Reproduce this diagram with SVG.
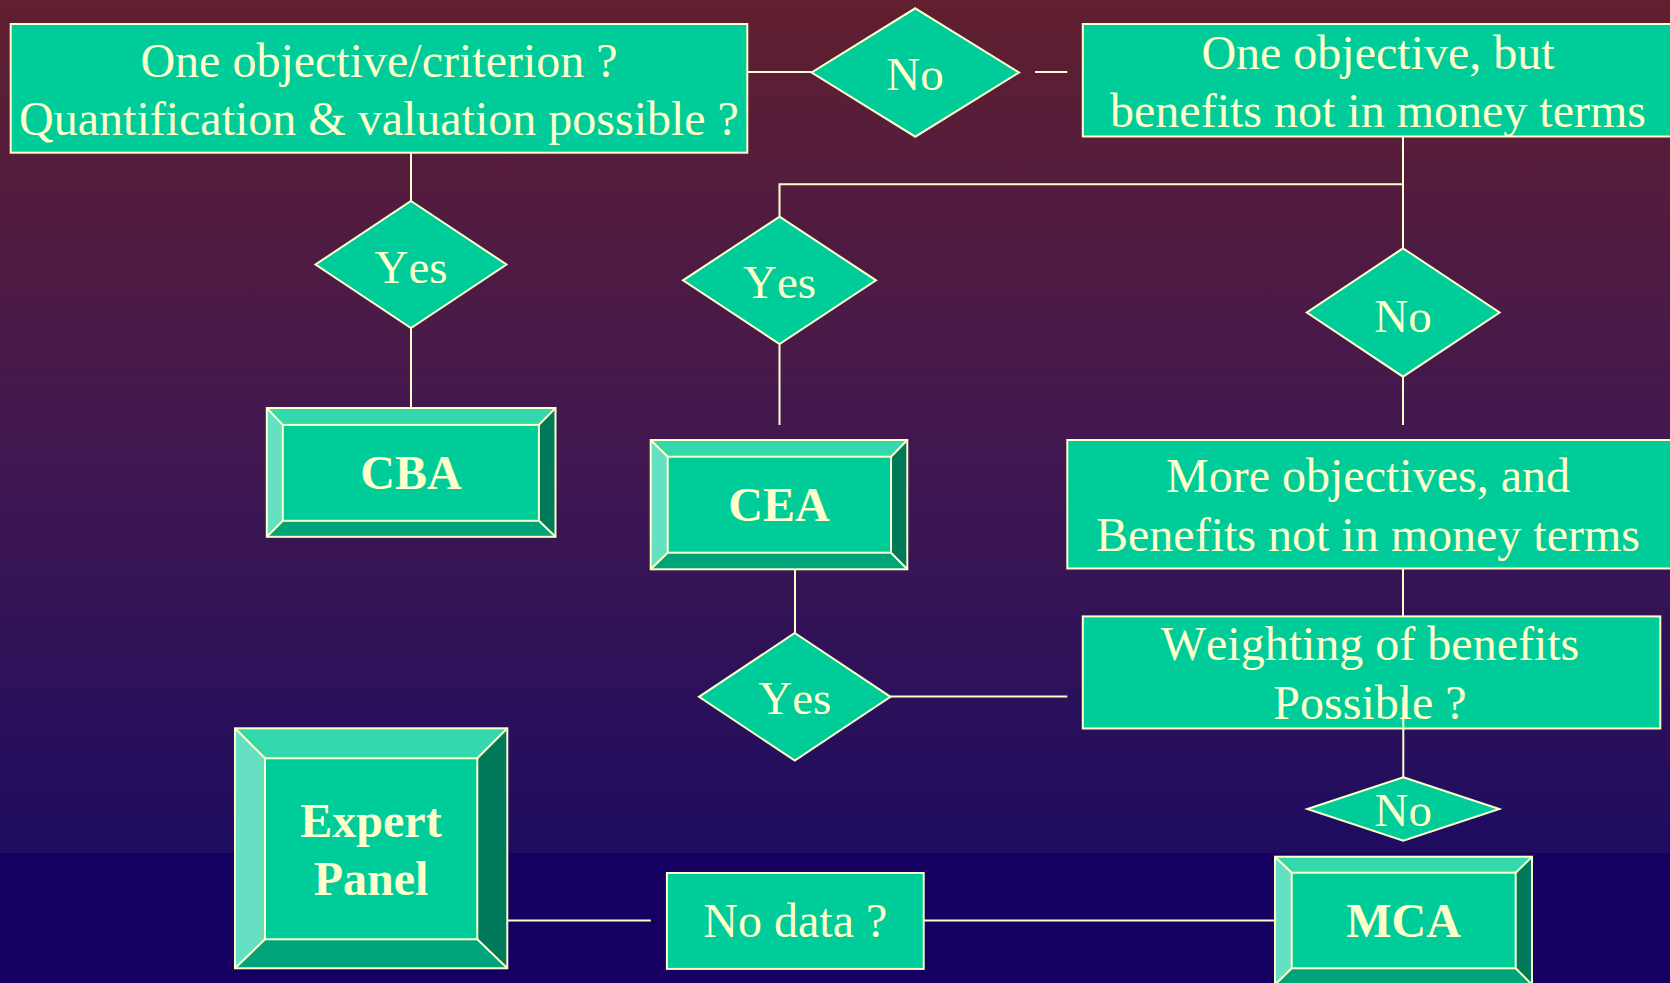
<svg xmlns="http://www.w3.org/2000/svg" width="1670" height="983" viewBox="0 0 1670 983">
<defs>
<linearGradient id="bg" x1="0" y1="0" x2="0" y2="853" gradientUnits="userSpaceOnUse">
<stop offset="0" stop-color="#611f2f"/>
<stop offset="0.5" stop-color="#43184f"/>
<stop offset="1" stop-color="#1e0c60"/>
</linearGradient>
<style>
.box{fill:#00cc99;stroke:#ffffcc;stroke-width:2}
.dia{fill:#00cc99;stroke:#ffffcc;stroke-width:2}
.face{fill:#00cc99}
.bt{fill:#33d9ac}
.bl{fill:#66e0c2}
.br{fill:#007a5a}
.bb{fill:#00a37a}
.edge{fill:none;stroke:#ffffcc;stroke-width:2}
.t{font-family:"Liberation Serif","Times New Roman",serif;font-size:48px;fill:#ffffcc;text-anchor:middle;font-kerning:none}
.d{font-size:47px}
.b{font-weight:bold}
.conn line,.conn polyline{stroke:#ffffcc;stroke-width:2;fill:none}
</style>
</defs>
<rect x="0" y="0" width="1670" height="853" fill="url(#bg)"/>
<rect x="0" y="853" width="1670" height="130" fill="#150061"/>

<g id="box-objective">
<rect class="box" x="10.7" y="24" width="736.6" height="128.7"/>
<text class="t" x="379" y="77">One objective/criterion ?</text>
<text class="t" x="379" y="135">Quantification &amp; valuation possible ?</text>
</g>

<g id="dia-no-top">
<polygon class="dia" points="915.3,8.3 1019,72.5 915.3,136.7 811.6,72.5"/>
<text class="t d" x="915" y="90">No</text>
</g>

<g id="box-one-objective">
<rect class="box" x="1082.8" y="24" width="600" height="112.5"/>
<text class="t" x="1378" y="69.3">One objective, but</text>
<text class="t" x="1378" y="126.7">benefits not in money terms</text>
</g>

<g id="dia-yes-cba">
<polygon class="dia" points="411,201 506.5,264.5 411,328 315.5,264.5"/>
<text class="t d" x="411" y="283">Yes</text>
</g>

<g id="dia-yes-cea">
<polygon class="dia" points="779.5,216.7 876,280.3 779.5,344 683,280.3"/>
<text class="t d" x="779.5" y="298">Yes</text>
</g>

<g id="dia-no-more">
<polygon class="dia" points="1403,248.3 1499.6,312.5 1403,376.7 1306.8,312.5"/>
<text class="t d" x="1403" y="331.7">No</text>
</g>

<g id="cba">
<rect class="face" x="266.8" y="408" width="288.7" height="128.8"/>
<polygon class="bt" points="266.8,408 555.5,408 538.9,424.9 282.8,424.9"/>
<polygon class="bl" points="266.8,408 282.8,424.9 282.8,520.8 266.8,536.8"/>
<polygon class="br" points="555.5,408 555.5,536.8 538.9,520.8 538.9,424.9"/>
<polygon class="bb" points="266.8,536.8 282.8,520.8 538.9,520.8 555.5,536.8"/>
<rect class="edge" x="266.8" y="408" width="288.7" height="128.8"/>
<rect class="edge" x="282.8" y="424.9" width="256.1" height="95.9"/>
<path class="edge" d="M266.8,408L282.8,424.9M555.5,408L538.9,424.9M266.8,536.8L282.8,520.8M555.5,536.8L538.9,520.8"/>
<text class="t b" x="411" y="488.5">CBA</text>
</g>

<g id="cea">
<rect class="face" x="650.7" y="440" width="256.6" height="129.3"/>
<polygon class="bt" points="650.7,440 907.3,440 891,456.7 667.7,456.7"/>
<polygon class="bl" points="650.7,440 667.7,456.7 667.7,552.7 650.7,569.3"/>
<polygon class="br" points="907.3,440 907.3,569.3 891,552.7 891,456.7"/>
<polygon class="bb" points="650.7,569.3 667.7,552.7 891,552.7 907.3,569.3"/>
<rect class="edge" x="650.7" y="440" width="256.6" height="129.3"/>
<rect class="edge" x="667.7" y="456.7" width="223.3" height="96"/>
<path class="edge" d="M650.7,440L667.7,456.7M907.3,440L891,456.7M650.7,569.3L667.7,552.7M907.3,569.3L891,552.7"/>
<text class="t b" x="779" y="520.7">CEA</text>
</g>

<g id="box-more">
<rect class="box" x="1067.3" y="440" width="620" height="128.5"/>
<text class="t" x="1368" y="492.2">More objectives, and</text>
<text class="t" x="1368" y="550.6">Benefits not in money terms</text>
</g>

<g id="box-weighting">
<rect class="box" x="1082.8" y="616.4" width="577.5" height="112.1"/>
<text class="t" x="1370" y="660.2">Weighting of benefits</text>
<text class="t" x="1370" y="718.6">Possible ?</text>
</g>

<g id="dia-yes-weight">
<polygon class="dia" points="794.8,633 890.5,696.8 794.8,760.6 699,696.8"/>
<text class="t d" x="794.8" y="714">Yes</text>
</g>

<g id="dia-no-mca">
<polygon class="dia" points="1403.3,777.3 1499.3,809 1403.3,840.7 1307.3,809"/>
<text class="t d" x="1403.3" y="825.7">No</text>
</g>

<g id="expert">
<rect class="face" x="235" y="728.3" width="272.3" height="240"/>
<polygon class="bt" points="235,728.3 507.3,728.3 477.3,758.3 265,758.3"/>
<polygon class="bl" points="235,728.3 265,758.3 265,939.3 235,968.3"/>
<polygon class="br" points="507.3,728.3 507.3,968.3 477.3,939.3 477.3,758.3"/>
<polygon class="bb" points="235,968.3 265,939.3 477.3,939.3 507.3,968.3"/>
<rect class="edge" x="235" y="728.3" width="272.3" height="240"/>
<rect class="edge" x="265" y="758.3" width="212.3" height="181"/>
<path class="edge" d="M235,728.3L265,758.3M507.3,728.3L477.3,758.3M235,968.3L265,939.3M507.3,968.3L477.3,939.3"/>
<text class="t b" x="371" y="837.3">Expert</text>
<text class="t b" x="371" y="895">Panel</text>
</g>

<g id="box-nodata">
<rect class="box" x="666.9" y="873" width="256.8" height="95.9"/>
<text class="t" x="795.3" y="936.5">No data ?</text>
</g>

<g id="mca">
<rect class="face" x="1275" y="856.7" width="257" height="128"/>
<polygon class="bt" points="1275,856.7 1532,856.7 1515.7,872.7 1291.7,872.7"/>
<polygon class="bl" points="1275,856.7 1291.7,872.7 1291.7,968.3 1275,984.7"/>
<polygon class="br" points="1532,856.7 1532,984.7 1515.7,968.3 1515.7,872.7"/>
<polygon class="bb" points="1275,984.7 1291.7,968.3 1515.7,968.3 1532,984.7"/>
<rect class="edge" x="1275" y="856.7" width="257" height="128"/>
<rect class="edge" x="1291.7" y="872.7" width="224" height="95.6"/>
<path class="edge" d="M1275,856.7L1291.7,872.7M1532,856.7L1515.7,872.7M1275,984.7L1291.7,968.3M1532,984.7L1515.7,968.3"/>
<text class="t b" x="1403.5" y="936.7">MCA</text>
</g>

<g id="connectors" class="conn">
<line x1="747.3" y1="72" x2="811.6" y2="72"/>
<line x1="1035" y1="72" x2="1067.3" y2="72"/>
<line x1="411" y1="152.7" x2="411" y2="201"/>
<line x1="411" y1="328" x2="411" y2="408"/>
<line x1="1403" y1="136.5" x2="1403" y2="248.3"/>
<polyline points="1403,184.3 779.5,184.3 779.5,216.7"/>
<line x1="779.5" y1="344" x2="779.5" y2="425"/>
<line x1="1403" y1="376.7" x2="1403" y2="425"/>
<line x1="795" y1="569.3" x2="795" y2="633"/>
<line x1="1403" y1="568.5" x2="1403" y2="616.4"/>
<line x1="890.5" y1="696.5" x2="1067.3" y2="696.5"/>
<line x1="1403.3" y1="697" x2="1403.3" y2="777.3"/>
<line x1="507.3" y1="920.5" x2="650.8" y2="920.5"/>
<line x1="923.7" y1="920.5" x2="1275" y2="920.5"/>
</g>
</svg>
